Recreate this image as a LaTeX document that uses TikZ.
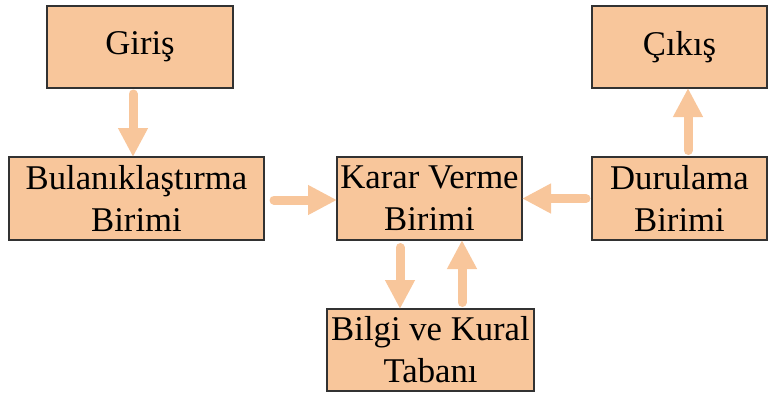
\documentclass[tikz,border=0pt]{standalone}
\usepackage{fontspec}
\setmainfont{Liberation Serif}
\usetikzlibrary{arrows.meta}
\definecolor{boxfill}{RGB}{248,198,155}
\definecolor{arrcol}{RGB}{248,198,155}
\definecolor{boxline}{RGB}{50,50,50}
\tikzset{
  blk/.style={draw=boxline, line width=1.2pt, fill=boxfill, align=center,
    inner sep=0pt, outer sep=0pt,
    font=\fontsize{34.7}{42}\selectfont},
  arr/.style={draw=arrcol, line width=9pt, line cap=round,
    -{Triangle[width=28pt,length=29pt]}}
}
\begin{document}
\begin{tikzpicture}[x=1pt,y=-1pt]
\useasboundingbox (0,0) rectangle (768,392);
\node[blk, minimum width=186pt, minimum height=82pt] (giris) at (140,47) {Giriş};
\node[blk, minimum width=255pt, minimum height=83pt] (bulan) at (136.5,198.5) {Bulanıklaştırma\\Birimi};
\node[blk, minimum width=185pt, minimum height=83pt] (karar) at (429.5,198.5) {Karar Verme\\Birimi};
\node[blk, minimum width=175pt, minimum height=83pt] (durul) at (679.5,198.5) {Durulama\\Birimi};
\node[blk, minimum width=175pt, minimum height=82pt] (cikis) at (679.5,47) {Çıkış};
\node[blk, minimum width=207pt, minimum height=82pt] (bilgi) at (430.5,350) {Bilgi ve Kural\\Tabanı};
\draw[arr] ([xshift=-7pt,yshift=-6pt]giris.south) -- ([xshift=-7pt]giris.south |- bulan.north);
\draw[arr] ([xshift=10pt,yshift=-1.5pt]bulan.east) -- ([yshift=-1.5pt]karar.west);
\draw[arr] ([xshift=-6pt]durul.west) -- (karar.east);
\draw[arr] ([xshift=-29.5pt,yshift=-7.5pt]karar.south) -- ([xshift=-29.5pt]karar.south |- bilgi.north);
\draw[arr] ([xshift=32.5pt,yshift=6.5pt]karar.south |- bilgi.north) -- ([xshift=32.5pt]karar.south);
\draw[arr] ([xshift=8.5pt,yshift=6.5pt]durul.north) -- ([xshift=8.5pt]durul.north |- cikis.south);
\end{tikzpicture}
\end{document}
